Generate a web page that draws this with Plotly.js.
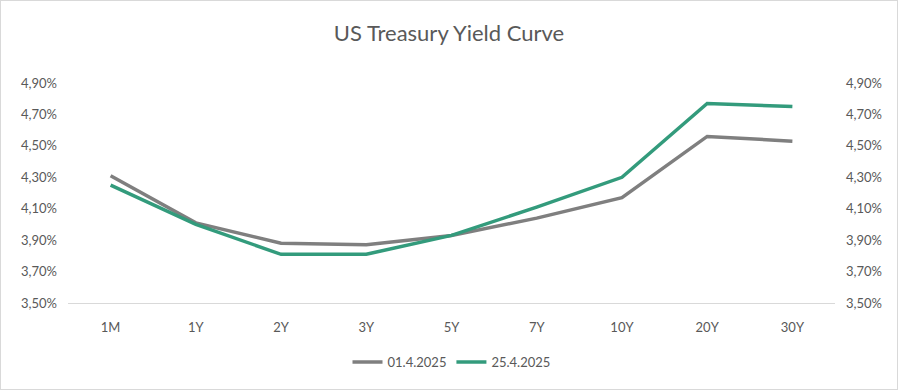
<!DOCTYPE html>
<html><head><meta charset="utf-8">
<script src="https://cdn.plot.ly/plotly-3.0.1.min.js"></script>
<style>
html,body{margin:0;padding:0;background:#fff;}
#chart{width:896px;height:388px;border:1px solid #d9d9d9;}
</style></head>
<body><div id="chart"></div>
<script>
const categories = ['1M','1Y','2Y','3Y','5Y','7Y','10Y','20Y','30Y'];
const series1Name = '01.4.2025';
const series1 = [4.31, 4.01, 3.88, 3.87, 3.93, 4.04, 4.17, 4.56, 4.53];
const series2Name = '25.4.2025';
const series2 = [4.25, 4.00, 3.81, 3.81, 3.93, 4.11, 4.30, 4.77, 4.75];
const tickVals = [3.5, 3.7, 3.9, 4.1, 4.3, 4.5, 4.7, 4.9];
const tickText = ['3,50%','3,70%','3,90%','4,10%','4,30%','4,50%','4,70%','4,90%'];

const font = {family: 'Lato, "Open Sans", sans-serif', color: '#595959', size: 13};
const yBase = {range: [3.5, 4.9], tickvals: tickVals, ticktext: tickText, showgrid: false,
  zeroline: false, showline: false, ticks: '', tickfont: font, fixedrange: true, ticklabelstandoff: 10};

Plotly.newPlot('chart', [
  {x: categories, y: series1, name: series1Name, type: 'scatter', mode: 'lines',
   line: {color: '#7f7f7f', width: 3.5}, yaxis: 'y'},
  {x: categories, y: series2, name: series2Name, type: 'scatter', mode: 'lines',
   line: {color: '#339b7c', width: 3.5}, yaxis: 'y2'}
], {
  width: 896, height: 388,
  margin: {l: 67, r: 62, t: 82, b: 84},
  paper_bgcolor: '#fff', plot_bgcolor: '#fff',
  title: {text: 'US Treasury Yield Curve', x: 0.5, xanchor: 'center', y: 0.918, yanchor: 'middle',
          font: {family: 'Lato, "Open Sans", sans-serif', size: 22, color: '#595959'}},
  xaxis: {type: 'category', showgrid: false, showline: true, linecolor: '#d9d9d9', linewidth: 1,
          ticks: '', tickfont: font, zeroline: false, range: [-0.5, 8.5], fixedrange: true,
          ticklabelstandoff: 12},
  yaxis: Object.assign({side: 'left'}, yBase),
  yaxis2: Object.assign({side: 'right', overlaying: 'y'}, yBase),
  showlegend: true,
  legend: {orientation: 'h', x: 0.5, xanchor: 'center', y: -0.2, yanchor: 'top',
           font: {family: 'Lato, "Open Sans", sans-serif', size: 13, color: '#595959'}},
  hovermode: false
}, {displayModeBar: false, staticPlot: true});
</script></body></html>
